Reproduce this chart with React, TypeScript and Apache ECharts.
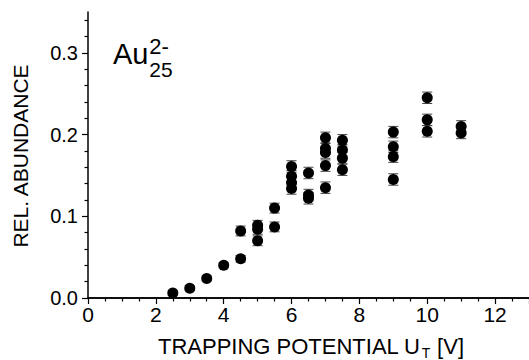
import React, { useEffect, useRef } from "react";
import * as echarts from "echarts";

// Trapping potential U_T [V] of each measurement
const trappingPotential = [
  2.5, 3, 3.5, 4, 4.5, 4.5, 5, 5, 5, 5.5, 5.5,
  6, 6, 6, 6, 6.5, 6.5, 6.5,
  7, 7, 7, 7, 7, 7.5, 7.5, 7.5, 7.5,
  9, 9, 9, 9, 10, 10, 10, 11, 11,
];

// Relative abundance of Au25(2-) for each measurement
const relAbundance = [
  0.006, 0.012, 0.024, 0.040, 0.048, 0.082, 0.089, 0.084, 0.070, 0.110, 0.087,
  0.161, 0.149, 0.141, 0.134, 0.153, 0.126, 0.122,
  0.196, 0.183, 0.178, 0.162, 0.135, 0.193, 0.181, 0.171, 0.157,
  0.203, 0.185, 0.173, 0.145, 0.245, 0.218, 0.204, 0.210, 0.202,
];

// Uncertainty (±) of each abundance value
const abundanceError = [
  0.003, 0.003, 0.003, 0.003, 0.004, 0.006, 0.006, 0.006, 0.006, 0.006, 0.006,
  0.007, 0.007, 0.007, 0.007, 0.007, 0.007, 0.007,
  0.007, 0.007, 0.007, 0.007, 0.007, 0.007, 0.007, 0.007, 0.007,
  0.007, 0.007, 0.007, 0.007, 0.007, 0.007, 0.007, 0.007, 0.007,
];

const yMajorTicks = [0, 0.1, 0.2, 0.3];
const yMinorTicks = [
  0.02, 0.04, 0.06, 0.08, 0.12, 0.14, 0.16, 0.18,
  0.22, 0.24, 0.26, 0.28, 0.32, 0.34,
];

const FONT = '"Liberation Sans", Arial, Helvetica, sans-serif';

function textWidth(text: string, size: number): number {
  const ctx = document.createElement("canvas").getContext("2d");
  if (!ctx) return text.length * size * 0.6;
  ctx.font = `${size}px ${FONT}`;
  return ctx.measureText(text).width;
}

export default function App() {
  const ref = useRef<HTMLDivElement>(null);

  useEffect(() => {
    if (!ref.current) return;
    const chart = echarts.init(ref.current, undefined, { renderer: "svg" });

    const points = trappingPotential.map((x, i) => [x, relAbundance[i], abundanceError[i]]);

    const axisLine = { show: true, lineStyle: { color: "#000", width: 1.5 } };
    const tickStyle = { color: "#000", width: 1.2 };

    // x-axis title with subscript T
    const titleSize = 22;
    const titleMain = "TRAPPING POTENTIAL U";
    const titleLeft = 158;
    const titleY = 346;
    const mainW = textWidth(titleMain, titleSize);
    const subW = textWidth("T", 15);

    // Au25 2- label
    const auLeft = 113;
    const auW = textWidth("Au", 28);

    chart.setOption({
      animation: false,
      backgroundColor: "#fff",
      grid: { left: 88, top: 12, right: -5, bottom: 62, containLabel: false },
      xAxis: [
        {
          type: "value",
          min: 0,
          max: 13,
          interval: 2,
          position: "bottom",
          axisLine,
          axisTick: { show: true, inside: false, length: 6, lineStyle: tickStyle },
          minorTick: { show: true, splitNumber: 4, length: 3.5, lineStyle: tickStyle },
          axisLabel: {
            color: "#000",
            fontSize: 21,
            fontFamily: FONT,
            margin: 6,
            showMaxLabel: false,
          },
          splitLine: { show: false },
          minorSplitLine: { show: false },
        },
        {
          type: "value",
          min: 0,
          max: 13,
          position: "top",
          axisLine,
          axisTick: { show: false },
          axisLabel: { show: false },
          splitLine: { show: false },
        },
      ],
      yAxis: [
        {
          type: "value",
          min: 0,
          max: 0.35,
          position: "left",
          axisLine,
          axisTick: { show: true, inside: false, length: 6, lineStyle: tickStyle, customValues: yMajorTicks },
          axisLabel: {
            color: "#000",
            fontSize: 20,
            fontFamily: FONT,
            margin: 10,
            customValues: yMajorTicks,
            formatter: (v: number) => v.toFixed(1),
          },
          splitLine: { show: false },
        },
        {
          type: "value",
          min: 0,
          max: 0.35,
          position: "left",
          axisLine: { show: false },
          axisTick: { show: true, inside: false, length: 3.5, lineStyle: tickStyle, customValues: yMinorTicks },
          axisLabel: { show: false },
          splitLine: { show: false },
        },
      ],
      series: [
        {
          type: "custom",
          name: "error",
          xAxisIndex: 0,
          yAxisIndex: 0,
          z: 1,
          data: points,
          renderItem: (_params: any, api: any) => {
            const x = api.value(0);
            const y = api.value(1);
            const e = api.value(2);
            const hi = api.coord([x, y + e]);
            const lo = api.coord([x, y - e]);
            const half = 5;
            const style = { stroke: "#444", lineWidth: 1 };
            return {
              type: "group",
              children: [
                { type: "line", shape: { x1: hi[0], y1: hi[1], x2: lo[0], y2: lo[1] }, style },
                { type: "line", shape: { x1: hi[0] - half, y1: hi[1], x2: hi[0] + half, y2: hi[1] }, style },
                { type: "line", shape: { x1: lo[0] - half, y1: lo[1], x2: lo[0] + half, y2: lo[1] }, style },
              ],
            };
          },
        },
        {
          type: "scatter",
          name: "Au25",
          xAxisIndex: 0,
          yAxisIndex: 0,
          z: 2,
          symbol: "circle",
          symbolSize: 11,
          itemStyle: { color: "#000", opacity: 1 },
          data: points.map((p) => [p[0], p[1]]),
        },
      ],
      graphic: [
        {
          type: "text",
          x: 20,
          y: 156,
          rotation: Math.PI / 2,
          style: {
            text: "REL. ABUNDANCE",
            fontSize: 21,
            fontFamily: FONT,
            fill: "#000",
            align: "center",
            verticalAlign: "middle",
          },
        },
        {
          type: "text",
          x: titleLeft,
          y: titleY,
          style: {
            text: titleMain,
            fontSize: titleSize,
            fontFamily: FONT,
            fill: "#000",
            align: "left",
            verticalAlign: "middle",
          },
        },
        {
          type: "text",
          x: titleLeft + mainW + 1,
          y: titleY + 7,
          style: {
            text: "T",
            fontSize: 14,
            fontFamily: FONT,
            fill: "#000",
            align: "left",
            verticalAlign: "middle",
          },
        },
        {
          type: "text",
          x: titleLeft + mainW + 1 + subW,
          y: titleY,
          style: {
            text: " [V]",
            fontSize: titleSize,
            fontFamily: FONT,
            fill: "#000",
            align: "left",
            verticalAlign: "middle",
          },
        },
        {
          type: "text",
          x: auLeft,
          y: 54,
          style: {
            text: "Au",
            fontSize: 29,
            fontFamily: FONT,
            fill: "#000",
            align: "left",
            verticalAlign: "middle",
          },
        },
        {
          type: "text",
          x: auLeft + auW + 2,
          y: 46,
          style: {
            text: "2-",
            fontSize: 22,
            fontFamily: FONT,
            fill: "#000",
            align: "left",
            verticalAlign: "middle",
          },
        },
        {
          type: "text",
          x: auLeft + auW + 2,
          y: 69,
          style: {
            text: "25",
            fontSize: 21,
            fontFamily: FONT,
            fill: "#000",
            align: "left",
            verticalAlign: "middle",
          },
        },
      ],
    });

    return () => chart.dispose();
  }, []);

  return (
    <div
      ref={ref}
      style={{ position: "fixed", left: 0, top: 0, width: 529, height: 360, background: "#fff" }}
    />
  );
}
